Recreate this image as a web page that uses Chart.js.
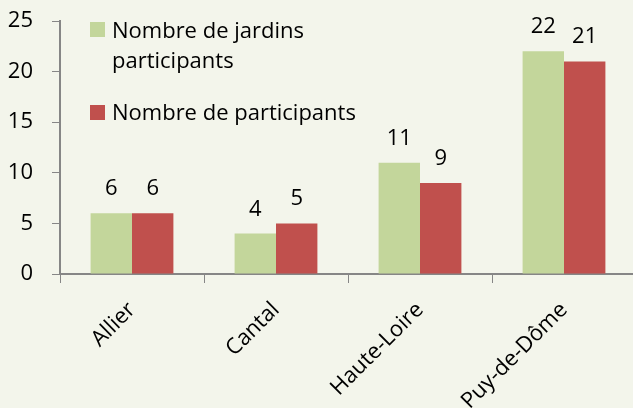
<!DOCTYPE html>
<html>
<head>
<meta charset="utf-8">
<style>
  html, body { margin: 0; padding: 0; background: #F3F5EB; overflow: hidden; }
</style>
<script src="https://cdn.jsdelivr.net/npm/chart.js@4/dist/chart.umd.min.js"></script>
</head>
<body>
<canvas id="chart" width="636" height="408"></canvas>
<script>
const categories = ['Allier', 'Cantal', 'Haute-Loire', 'Puy-de-Dôme'];
const jardins = [6, 4, 11, 22];
const participants = [6, 5, 9, 21];
const seriesLabels = [['Nombre de jardins', 'participants'], ['Nombre de participants']];
const yMin = 0, yMax = 25, yStep = 5;

const FONT = '"Open Sans", sans-serif';
const AXIS = '#868686';

// values above the bars
const valueLabels = {
    id: 'valueLabels',
    afterDatasetsDraw(chart) {
        const ctx = chart.ctx;
        ctx.save();
        ctx.font = '22px ' + FONT;
        ctx.fillStyle = '#000';
        ctx.textAlign = 'center';
        ctx.textBaseline = 'alphabetic';
        chart.data.datasets.forEach((ds, i) => {
            chart.getDatasetMeta(i).data.forEach((bar, j) => {
                ctx.fillText(ds.data[j], bar.x, bar.y - 18);
            });
        });
        ctx.restore();
    }
};

// legend drawn over the plot, top left
const overlayLegend = {
    id: 'overlayLegend',
    afterDraw(chart) {
        const ctx = chart.ctx;
        const rows = [{ top: 22, lines: [38, 68] }, { top: 105, lines: [120] }];
        ctx.save();
        ctx.font = '22px ' + FONT;
        ctx.textBaseline = 'alphabetic';
        chart.data.datasets.forEach((ds, i) => {
            ctx.fillStyle = ds.backgroundColor;
            ctx.fillRect(90, rows[i].top, 15, 15);
            ctx.fillStyle = '#000';
            ds.legendText.forEach((t, k) => ctx.fillText(t, 112, rows[i].lines[k]));
        });
        ctx.restore();
    }
};

const bgFill = {
    id: 'bgFill',
    beforeDraw(chart) {
        const ctx = chart.ctx;
        ctx.save();
        ctx.fillStyle = '#F3F5EB';
        ctx.fillRect(0, 0, chart.width, chart.height);
        ctx.restore();
    }
};

new Chart(document.getElementById('chart'), {
    type: 'bar',
    data: {
        labels: categories,
        datasets: [{
            label: seriesLabels[0].join(' '),
            legendText: seriesLabels[0],
            data: jardins,
            backgroundColor: '#C3D69B'
        }, {
            label: seriesLabels[1].join(' '),
            legendText: seriesLabels[1],
            data: participants,
            backgroundColor: '#C0504D'
        }]
    },
    options: {
        responsive: false,
        animation: false,
        layout: { padding: { top: 21, right: 0, left: 0, bottom: 0 } },
        datasets: { bar: { categoryPercentage: 0.575, barPercentage: 1 } },
        plugins: { legend: { display: false }, tooltip: { enabled: false } },
        scales: {
            x: {
                grid: { drawOnChartArea: false, color: AXIS, tickLength: 9, offset: true },
                border: { color: AXIS, width: 2 },
                ticks: { color: '#000', font: { family: FONT, size: 22 }, minRotation: 45, maxRotation: 45, padding: 14 },
                afterFit(scale) { scale.height = 134; }
            },
            y: {
                min: yMin, max: yMax,
                grid: { drawOnChartArea: false, color: AXIS, tickLength: 8 },
                border: { color: AXIS, width: 2 },
                ticks: { stepSize: yStep, color: '#000', font: { family: FONT, size: 22 }, padding: 19 },
                afterFit(scale) {
                    scale.width = 60;
                    scale.paddingTop = 0;
                    scale.paddingBottom = 0;
                }
            }
        }
    },
    plugins: [bgFill, valueLabels, overlayLegend]
});
</script>
</body>
</html>
